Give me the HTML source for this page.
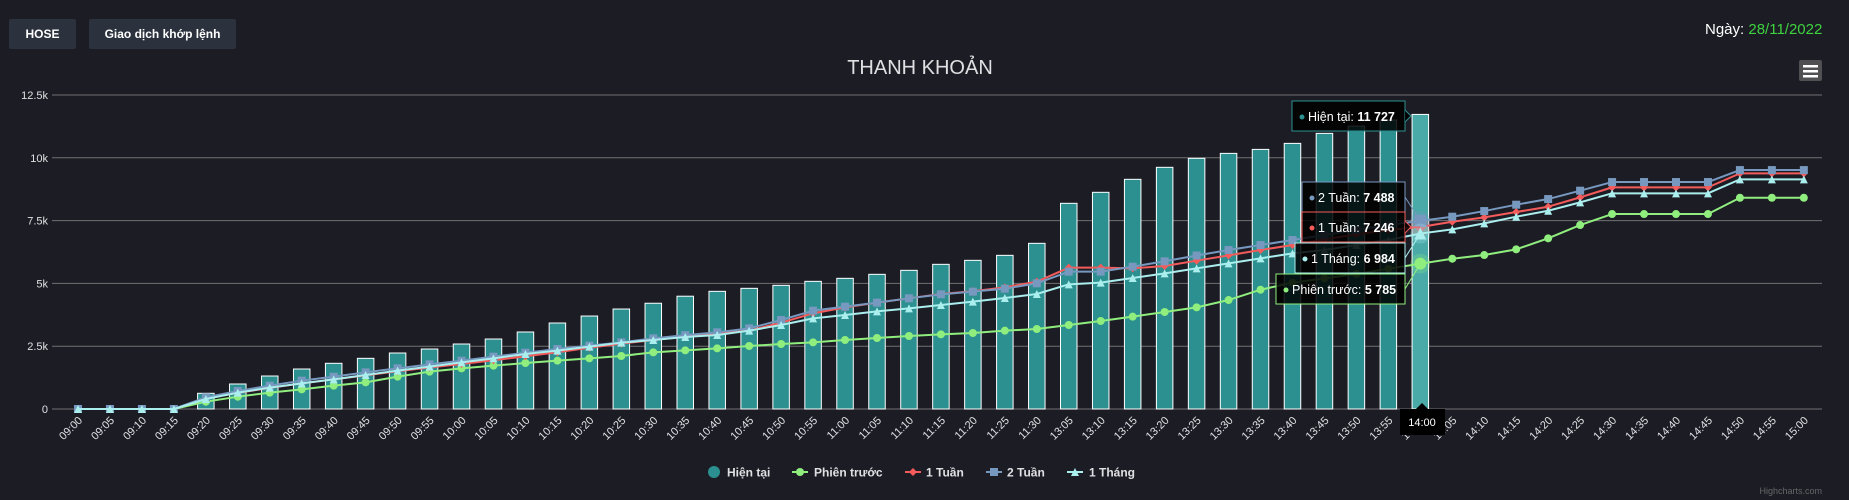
<!DOCTYPE html>
<html><head><meta charset="utf-8"><style>
html,body{margin:0;padding:0;background:#1c1c25;width:1849px;height:500px;overflow:hidden}
body{font-family:"Liberation Sans","Noto Sans CJK SC",sans-serif;position:relative}
.btn{position:absolute;top:19px;height:30px;background:#2b313d;color:#fff;font-weight:bold;font-size:12px;line-height:30px;text-align:center;border-radius:2px}
#date{position:absolute;left:1705px;top:21px;font-size:15px;color:#fff}
#date span{color:#3fd23f}
svg{position:absolute;left:0;top:0}
</style></head><body>
<div class="btn" style="left:9px;width:67px">HOSE</div>
<div class="btn" style="left:89px;width:147px">Giao dịch khớp lệnh</div>
<div id="date">Ngày: <span>28/11/2022</span></div>
<svg id="chart" width="1849" height="500" font-family="Liberation Sans, sans-serif"></svg>
<script>
const categories=["09:00","09:05","09:10","09:15","09:20","09:25","09:30","09:35","09:40","09:45","09:50","09:55","10:00","10:05","10:10","10:15","10:20","10:25","10:30","10:35","10:40","10:45","10:50","10:55","11:00","11:05","11:10","11:15","11:20","11:25","11:30","13:05","13:10","13:15","13:20","13:25","13:30","13:35","13:40","13:45","13:50","13:55","14:00","14:05","14:10","14:15","14:20","14:25","14:30","14:35","14:40","14:45","14:50","14:55","15:00"];
const hienTai=[0,0,0,0,625,995,1313,1592,1819,2017,2229,2388,2587,2786,3065,3423,3701,3980,4210,4490,4684,4804,4923,5082,5202,5361,5520,5759,5918,6117,6595,8188,8626,9143,9621,9979,10176,10335,10574,10972,11263,11502,11727];
const phienTruoc=[0,0,0,0,291,490,650,783,929,1061,1287,1486,1619,1725,1831,1924,2017,2110,2256,2336,2415,2508,2588,2654,2747,2827,2906,2972,3026,3118,3185,3344,3503,3676,3862,4047,4338,4748,5027,5200,5373,5584,5785,5982,6129,6356,6794,7323,7761,7761,7761,7761,8410,8410,8410];
const tuan1=[0,0,0,0,420,640,840,1020,1180,1340,1500,1650,1790,1940,2100,2260,2440,2600,2747,2880,3012,3118,3437,3808,4047,4233,4406,4578,4690,4843,5069,5626,5626,5600,5693,5904,6117,6328,6527,6753,6952,7124,7246,7456,7629,7841,8053,8425,8823,8823,8823,8823,9380,9380,9380];
const tuan2=[0,0,0,0,465,716,929,1128,1287,1459,1619,1778,1924,2083,2242,2388,2521,2653,2813,2940,3052,3211,3543,3915,4074,4233,4406,4565,4671,4790,5003,5467,5467,5666,5880,6110,6328,6527,6726,6925,7124,7323,7488,7655,7880,8133,8358,8690,9035,9035,9035,9035,9512,9512,9512];
const thang1=[0,0,0,0,398,650,849,1021,1181,1353,1526,1685,1857,2017,2189,2322,2481,2640,2747,2866,2946,3118,3344,3609,3742,3888,4008,4140,4273,4419,4578,4963,5029,5215,5401,5600,5799,5998,6197,6328,6527,6726,6984,7151,7390,7655,7893,8226,8585,8585,8585,8585,9141,9141,9141];
const yTicks=[0,2500,5000,7500,10000,12500];
const yTickLabels=["0","2.5k","5k","7.5k","10k","12.5k"];
const hoverIndex=42;

const NS="http://www.w3.org/2000/svg";
const svg=document.getElementById('chart');
function mk(tag,attrs,parent){const e=document.createElementNS(NS,tag);for(const k in attrs)e.setAttribute(k,attrs[k]);(parent||svg).appendChild(e);return e;}
const X0=78,STEP=31.96,Y0=409,YMAX=12500,YH=314;
function xPos(i){return X0+i*STEP;}
function yPos(v){return Y0-v*YH/YMAX;}

// title
let t=mk('text',{x:920,y:74,'text-anchor':'middle',fill:'#E0E0E3','font-size':'20'});
t.textContent='THANH KHOẢN';



// grid + y labels
yTicks.forEach((v,k)=>{
  const g=mk('line',{x1:52,x2:1822,y1:yPos(v),y2:yPos(v),stroke:'#707073','stroke-width':1});
  
  
  const l=mk('text',{x:48,y:yPos(v)+4,'text-anchor':'end',fill:'#E0E0E3','font-size':'11'});
  l.textContent=yTickLabels[k];
  
  
});

// x labels
categories.forEach((c,i)=>{
  const x=xPos(i)+5,y=421;
  const l=mk('text',{x:x,y:y,'text-anchor':'end',fill:'#E0E0E3','font-size':'11',transform:`rotate(-45 ${x} ${y})`});
  l.textContent=c;
  
  
});

// bars
hienTai.forEach((v,i)=>{
  const top=yPos(v);
  const b=mk('rect',{x:xPos(i)-8.25,y:top,width:16.5,height:Math.max(0,Y0-top),fill:i===hoverIndex?'#4aaaa8':'#2b908f',stroke:'#ffffff','stroke-width':1});
  
  
});

function marker(type,x,y,color,r,parent){
  let m;
  if(type==='circle')m=mk('circle',{cx:x,cy:y,r:r,fill:color},parent);
  else if(type==='square')m=mk('rect',{x:x-r,y:y-r,width:2*r,height:2*r,fill:color},parent);
  else if(type==='diamond')m=mk('path',{d:`M${x} ${y-r}L${x+r} ${y}L${x} ${y+r}L${x-r} ${y}Z`,fill:color},parent);
  else m=mk('path',{d:`M${x} ${y-r}L${x+r} ${y+r}L${x-r} ${y+r}Z`,fill:color},parent);
  return m;
}
const series=[
  {name:'phien-truoc',data:phienTruoc,color:'#90ee7e',m:'circle',r:4},
  {name:'1-tuan',data:tuan1,color:'#f45b5b',m:'diamond',r:4},
  {name:'2-tuan',data:tuan2,color:'#7798BF',m:'square',r:4},
  {name:'1-thang',data:thang1,color:'#aaeeee',m:'triangle',r:4}
];
series.forEach(s=>{
  const pts=s.data.map((v,i)=>xPos(i)+','+yPos(v)).join(' ');
  const pl=mk('polyline',{points:pts,fill:'none',stroke:s.color,'stroke-width':2,'stroke-linejoin':'round'});
  
  
  s.data.forEach((v,i)=>{
    const hov=i===hoverIndex;
    if(hov){const h=mk('circle',{cx:xPos(i),cy:yPos(v),r:10,fill:s.color,opacity:0.25});
      
      }
    const m=marker(s.m,xPos(i),yPos(v),s.color,hov?6:s.r);
    
    
  });
});

// crosshair label
const xh=mk('g',{});


mk('rect',{x:1400,y:409,width:45,height:26,fill:'#000'},xh);
mk('path',{d:'M1416 409L1422 403L1428 409Z',fill:'#000'},xh);
let xt=mk('text',{x:1422,y:426,'text-anchor':'middle',fill:'#fff','font-size':'11'},xh);xt.textContent='14:00';

// tooltips
const tips=[
  {label:'Hiện tại',val:hienTai[hoverIndex],x:1292,y:101,color:'#2b908f',border:'#2b908f',arrow:true},
  {label:'2 Tuần',val:tuan2[hoverIndex],x:1302,y:182,color:'#7798BF',border:'#7798BF'},
  {label:'1 Tuần',val:tuan1[hoverIndex],x:1302,y:212,color:'#f45b5b',border:'#f45b5b',arrow:true},
  {label:'1 Tháng',val:thang1[hoverIndex],x:1295,y:243,color:'#aaeeee',border:'#aaeeee'},
  {label:'Phiên trước',val:phienTruoc[hoverIndex],x:1276,y:274,color:'#90ee7e',border:'#90ee7e'}
];
const targets=[null,tuan2,tuan1,thang1,phienTruoc];
function fmt(v){return String(v).replace(/\B(?=(\d{3})+(?!\d))/g,' ');}
tips.forEach((tp,k)=>{
  const g=mk('g',{});
  
  
  const w=1405-tp.x,h=30;
  if(targets[k]){mk('line',{x1:1405,y1:tp.y+15,x2:xPos(hoverIndex),y2:yPos(targets[k][hoverIndex]),stroke:tp.border,'stroke-width':1},g);}
  mk('rect',{x:tp.x,y:tp.y,width:w,height:h,fill:'rgba(0,0,0,0.85)',stroke:tp.border,'stroke-width':1},g);
  if(tp.arrow)mk('path',{d:`M1405 ${tp.y+9}L1411 ${tp.y+15}L1405 ${tp.y+21}`,fill:'rgba(0,0,0,0.85)',stroke:tp.border},g);
  mk('circle',{cx:tp.x+10,cy:tp.y+16,r:2.5,fill:tp.color},g);
  const tx=mk('text',{x:tp.x+16,y:tp.y+20,fill:'#fff','font-size':'12.5'},g);
  tx.textContent=tp.label+': ';
  const b=mk('tspan',{'font-weight':'bold'},tx);b.textContent=fmt(tp.val);
});

// legend
const legend=[
  {label:'Hiện tại',color:'#2b908f',m:'bigcircle',mx:714,tx:727},
  {label:'Phiên trước',color:'#90ee7e',m:'circle',mx:800,tx:814},
  {label:'1 Tuần',color:'#f45b5b',m:'diamond',mx:913,tx:926},
  {label:'2 Tuần',color:'#7798BF',m:'square',mx:994,tx:1007},
  {label:'1 Tháng',color:'#aaeeee',m:'triangle',mx:1075,tx:1089}
];
legend.forEach(l=>{
  const g=mk('g',{});
  
  
  if(l.m==='bigcircle')mk('circle',{cx:l.mx,cy:472,r:6,fill:l.color},g);
  else{mk('line',{x1:l.mx-8,x2:l.mx+8,y1:472,y2:472,stroke:l.color,'stroke-width':2},g);marker(l.m,l.mx,472,l.color,4,g);}
  const tx=mk('text',{x:l.tx,y:476.5,fill:'#E0E0E3','font-size':'12','font-weight':'bold'},g);tx.textContent=l.label;
});

// menu button
const mb=mk('g',{});


mk('rect',{x:1799,y:60,width:23,height:21,rx:2,fill:'#505053'},mb);
[65,70,75].forEach(y=>mk('rect',{x:1803,y:y,width:15,height:2.5,fill:'#fff'},mb));

const cr=mk('text',{x:1822,y:494,'text-anchor':'end',fill:'#666','font-size':'9'});
cr.textContent='Highcharts.com';


</script>
</body></html>
